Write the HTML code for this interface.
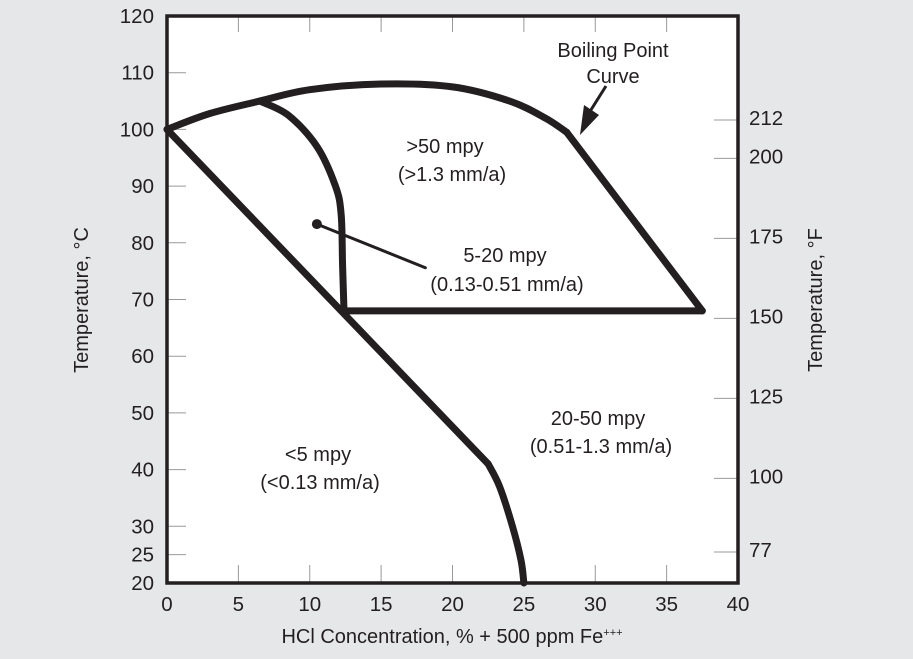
<!DOCTYPE html>
<html><head><meta charset="utf-8"><style>
body{margin:0;background:#e6e7e8;}
svg{display:block;font-family:"Liberation Sans",Arial,sans-serif;}
</style></head><body>
<svg width="913" height="659" viewBox="0 0 913 659">
<rect x="0" y="0" width="913" height="659" fill="#e6e7e8"/>
<rect x="167" y="16" width="571" height="567" fill="#fff"/>
<g id="ticks"></g>
<g id="curves" fill="none" stroke="#231f20" stroke-width="7" stroke-linejoin="round" stroke-linecap="round"></g>
<rect x="167" y="16" width="571" height="567" fill="none" stroke="#231f20" stroke-width="3.5"/>
<g id="labels" font-size="20.5" fill="#231f20"></g>
<text x="88" y="300" font-size="20" fill="#231f20" text-anchor="middle" transform="rotate(-90 88 300)">Temperature, °C</text>
<text x="822" y="300" font-size="20" fill="#231f20" text-anchor="middle" transform="rotate(-90 822 300)">Temperature, °F</text>
<text x="452" y="643" font-size="20" fill="#231f20" text-anchor="middle">HCl Concentration, % + 500 ppm Fe<tspan font-size="11" dy="-7">+++</tspan></text>
<g font-size="20" fill="#231f20" text-anchor="middle">
<text x="613" y="57">Boiling Point</text>
<text x="613" y="83">Curve</text>
<text x="445" y="153">&gt;50 mpy</text>
<text x="452" y="181">(&gt;1.3 mm/a)</text>
<text x="505" y="262">5-20 mpy</text>
<text x="507" y="291">(0.13-0.51 mm/a)</text>
<text x="598" y="425">20-50 mpy</text>
<text x="601" y="453">(0.51-1.3 mm/a)</text>
<text x="318" y="461">&lt;5 mpy</text>
<text x="320" y="489">(&lt;0.13 mm/a)</text>
</g>
<line x1="606" y1="86" x2="589" y2="113" stroke="#231f20" stroke-width="3"/>
<polygon points="580,135 584,105 599,115" fill="#231f20"/>
</svg>
<script>
const xTicks=[0,5,10,15,20,25,30,35,40];
const cTicks=[20,25,30,40,50,60,70,80,90,100,110,120];
const fTicks=[77,100,125,150,175,200,212];
const boiling=[[0,100],[3,102.8],[6.5,105],[10,107],[15,108],[20,107.5],[24,105],[26.5,102],[28,99.5],[37.5,68]];
const innerCurve=[[6.5,105],[8.5,102.5],[10.5,97],[11.8,90],[12.2,85],[12.3,76],[12.4,68]];
const horizontal=[[12.4,68],[37.5,68]];
const diagonal=[[0,100],[12.2,68],[22.5,41],[23.3,37],[24.2,30],[24.8,24],[25,20]];
const pointerLine=[[10.5,83.3],[18.1,75.6]];
const NS='http://www.w3.org/2000/svg';
const X=v=>167+v*(571/40);
const Y=t=>583-(t-20)*5.67;
const YF=f=>552-(f-77)*3.2;
function el(tag,attrs,parent){const e=document.createElementNS(NS,tag);for(const k in attrs)e.setAttribute(k,attrs[k]);parent.appendChild(e);return e;}
const tk=document.getElementById('ticks'),lb=document.getElementById('labels'),cv=document.getElementById('curves');
xTicks.forEach(v=>{
 if(v>0&&v<40){const l=el('line',{x1:X(v),x2:X(v),y1:583,y2:565,stroke:'#999','stroke-width':1},tk);
 
 
 const l2=el('line',{x1:X(v),x2:X(v),y1:16,y2:32,stroke:'#999','stroke-width':1},tk);
 
 }
 const t=el('text',{x:X(v),y:611,'text-anchor':'middle'},lb);t.textContent=v;
 
 
});
cTicks.forEach(v=>{
 if(v>20&&v<120){const l=el('line',{x1:167,x2:186,y1:Y(v),y2:Y(v),stroke:'#999','stroke-width':1},tk);
 
 }
 const t=el('text',{x:154,y:Y(v)+7,'text-anchor':'end'},lb);t.textContent=v;
 
 
});
fTicks.forEach(v=>{
 const l=el('line',{x1:714,x2:738,y1:YF(v),y2:YF(v),stroke:'#999','stroke-width':1},tk);
 
 
 const t=el('text',{x:749,y:YF(v)+5},lb);t.textContent=v;
 
 
});
function curve(pts,name,smooth){
 let d='M'+X(pts[0][0])+','+Y(pts[0][1]);
 if(smooth&&pts.length>2){
  for(let i=0;i<pts.length-1;i++){
   const p0=pts[Math.max(0,i-1)],p1=pts[i],p2=pts[i+1],p3=pts[Math.min(pts.length-1,i+2)];
   const c1x=X(p1[0])+(X(p2[0])-X(p0[0]))/6,c1y=Y(p1[1])+(Y(p2[1])-Y(p0[1]))/6;
   const c2x=X(p2[0])-(X(p3[0])-X(p1[0]))/6,c2y=Y(p2[1])-(Y(p3[1])-Y(p1[1]))/6;
   d+=' C'+c1x+','+c1y+' '+c2x+','+c2y+' '+X(p2[0])+','+Y(p2[1]);
  }
 } else pts.slice(1).forEach(p=>d+=' L'+X(p[0])+','+Y(p[1]));
 const p=el('path',{d:d},cv);
 
 
}
curve(boiling.slice(0,9),'boiling-point-curve',true);
curve(boiling.slice(8),'boiling-point-line',false);
curve(innerCurve,'inner-boundary-curve',true);
curve(horizontal,'horizontal-boundary',false);
curve(diagonal.slice(0,3),'diagonal-boundary',false);
curve(diagonal.slice(2),'lower-boundary-curve',true);
const pl=el('line',{x1:X(pointerLine[0][0]),y1:Y(pointerLine[0][1]),x2:X(pointerLine[1][0]),y2:Y(pointerLine[1][1]),stroke:'#231f20','stroke-width':3},cv);


const dot=el('circle',{cx:X(pointerLine[0][0]),cy:Y(pointerLine[0][1]),r:5,fill:'#231f20',stroke:'none'},cv);


</script>
</body></html>
